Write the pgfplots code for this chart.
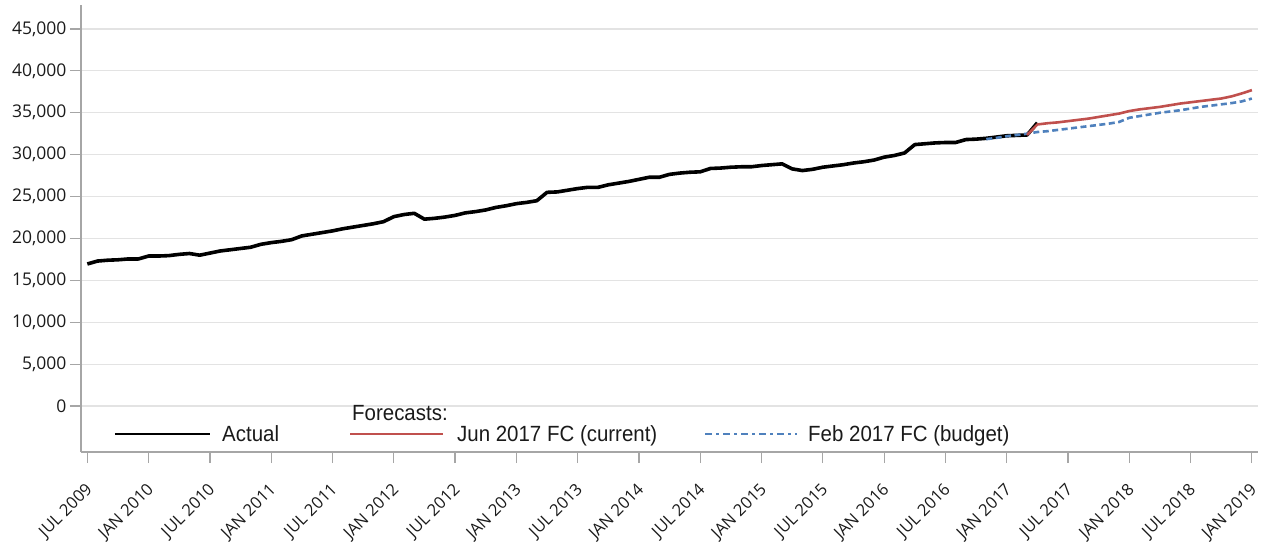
\documentclass[border=0pt]{standalone}
\usepackage{pgfplots}
\pgfplotsset{compat=1.18}
\usepackage{fontspec}
\setmainfont{Open Sans}
\newfontfamily\legfont[FakeStretch=0.93]{Liberation Sans}
\definecolor{fcred}{HTML}{C0504D}
\definecolor{fcblue}{HTML}{4F81BD}
\definecolor{axgray}{HTML}{A6A6A6}
\definecolor{gridgray}{HTML}{E3E3E3}
\definecolor{txt}{HTML}{1A1A1A}

\begin{document}
\begin{tikzpicture}[x=1pt,y=1pt]
\begin{axis}[
  at={(0,0)}, anchor=south west,
  scale only axis, width=1177pt, height=447pt,
  xmin=-0.62, xmax=114.6, ymin=-5490, ymax=47860,
  axis x line*=bottom, axis y line*=left,
  axis line style={axgray, line width=1.5pt},
  xtick={0,6,...,114},
  xticklabels={JUL 2009, JAN 2010, JUL 2010, JAN 2011, JUL 2011, JAN 2012, JUL 2012, JAN 2013, JUL 2013, JAN 2014, JUL 2014, JAN 2015, JUL 2015, JAN 2016, JUL 2016, JAN 2017, JUL 2017, JAN 2018, JUL 2018, JAN 2019},
  ytick={0,5000,...,45000},
  ymajorgrids, grid style={gridgray, line width=1.2pt},
  tick style={axgray, line width=1.2pt},
  tick align=outside,
  major tick length=11pt,
  xticklabel style={xshift=5pt, yshift=-22pt, rotate=45, anchor=east, font=\fontsize{16.5}{18}\selectfont, text=txt},
  yticklabel style={font=\fontsize{17.5}{20}\selectfont, text=txt},
  /pgf/number format/assume math mode=true,
  /pgf/number format/1000 sep={,},
  scaled y ticks=false,
]
\addplot[black, line width=3.6pt, line join=round] coordinates {
(0,16950) (1,17300) (2,17400) (3,17450) (4,17550) (5,17550) (6,17900) (7,17900) (8,17950) (9,18100)
(10,18200) (11,18000) (12,18250) (13,18500) (14,18650) (15,18800) (16,18950) (17,19300) (18,19500) (19,19650)
(20,19850) (21,20300) (22,20500) (23,20700) (24,20900) (25,21150) (26,21350) (27,21550) (28,21750) (29,22000)
(30,22600) (31,22850) (32,23000) (33,22300) (34,22400) (35,22550) (36,22750) (37,23050) (38,23200) (39,23400)
(40,23700) (41,23900) (42,24150) (43,24300) (44,24500) (45,25500) (46,25550) (47,25750) (48,25950) (49,26100)
(50,26100) (51,26400) (52,26600) (53,26800) (54,27050) (55,27300) (56,27300) (57,27650) (58,27800) (59,27900)
(60,27950) (61,28350) (62,28400) (63,28500) (64,28550) (65,28550) (66,28700) (67,28800) (68,28900) (69,28300)
(70,28100) (71,28250) (72,28500) (73,28650) (74,28800) (75,29000) (76,29150) (77,29350) (78,29700) (79,29900)
(80,30200) (81,31200) (82,31300) (83,31400) (84,31450) (85,31450) (86,31800) (87,31850) (88,31950) (89,32100)
(90,32250) (91,32300) (92,32350) (93,33800)
};
\addplot[fcblue, line width=2.6pt, dash pattern=on 6pt off 3.5pt] coordinates {
(88,31850) (89,32000) (90,32200) (91,32350) (92,32500) (93,32700) (94,32800) (95,32950) (96,33100) (97,33250)
(98,33400) (99,33550) (100,33700) (101,33900) (102,34400) (103,34600) (104,34800) (105,35000) (106,35150) (107,35300)
(108,35500) (109,35700) (110,35850) (111,36000) (112,36150) (113,36350) (114,36700)
};
\addplot[fcred, line width=2.6pt, line join=round] coordinates {
(92,32350) (93,33600) (94,33750) (95,33850) (96,34000) (97,34150) (98,34300) (99,34500) (100,34700) (101,34900)
(102,35200) (103,35400) (104,35550) (105,35700) (106,35900) (107,36100) (108,36250) (109,36400) (110,36550) (111,36700)
(112,36950) (113,37300) (114,37700)
};
\end{axis}
% legend
\draw[black, line width=2.4pt] (34,18) -- (129,18);
\node[anchor=base west, inner sep=0pt, text=txt] at (141,10.3) {\legfont\fontsize{22}{24}\selectfont Actual};
\node[anchor=base west, inner sep=0pt, text=txt] at (271,31) {\legfont\fontsize{22}{24}\selectfont Forecasts:};
\draw[fcred, line width=2.4pt] (269,18) -- (362,18);
\node[anchor=base west, inner sep=0pt, text=txt] at (376,10.3) {\legfont\fontsize{22}{24}\selectfont Jun 2017 FC (current)};
\draw[fcblue, line width=2.4pt, dash pattern=on 7pt off 4pt on 3pt off 4pt] (624,18) -- (716,18);
\node[anchor=base west, inner sep=0pt, text=txt] at (727,10.3) {\legfont\fontsize{22}{24}\selectfont Feb 2017 FC (budget)};
\pgfresetboundingbox
\path[use as bounding box] (-81,-92) rectangle (1181,452);
\end{tikzpicture}
\end{document}
